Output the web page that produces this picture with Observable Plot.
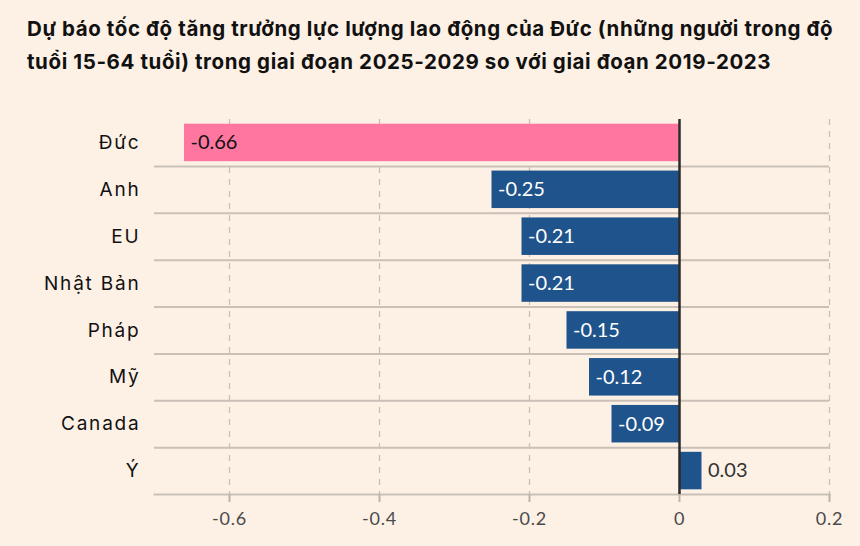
<!DOCTYPE html>
<html>
<head>
<meta charset="utf-8">
<script src="https://cdn.jsdelivr.net/npm/d3@7"></script>
<script src="https://cdn.jsdelivr.net/npm/@observablehq/plot@0.6"></script>
<style>
  html, body { margin: 0; padding: 0; background: #fdf0e5; width: 860px; height: 546px; overflow: hidden; }
  #title { position: absolute; left: 27px; top: 12px; width: 840px; white-space: nowrap; font-family: "Inter", sans-serif; font-weight: 700; font-size: 20.5px; line-height: 33px; color: #111; letter-spacing: 0.6px; }
  #chart { position: absolute; left: 0; top: 90px; }
</style>
</head>
<body>
<div id="title">Dự báo tốc độ tăng trưởng lực lượng lao động của Đức (những người trong độ<br>tuổi 15-64 tuổi) trong giai đoạn 2025-2029 so với giai đoạn 2019-2023</div>
<div id="chart"></div>
<script>
const countries = ["Đức", "Anh", "EU", "Nhật Bản", "Pháp", "Mỹ", "Canada", "Ý"];
const values = [-0.66, -0.25, -0.21, -0.21, -0.15, -0.12, -0.09, 0.03];
const highlight = "Đức";
const xTicks = [-0.6, -0.4, -0.2, 0, 0.2];
const xDomain = [-0.7, 0.2];

const data = countries.map((c, i) => ({country: c, value: values[i]}));

const W = 860, H = 456, mt = 29, mb = 52, ml = 154, mr = 31;
const step = (H - mt - mb) / countries.length;

const pink = "#ff77a0", blue = "#1f538b", grid = "#c9c1b8";
const fmt = d => d3.format(".2f")(d).replace("−", "-");

const chart = Plot.plot({
  width: W, height: H,
  marginTop: mt, marginBottom: mb, marginLeft: ml, marginRight: mr,
  style: {background: "transparent", fontFamily: "Lato, sans-serif"},
  x: {domain: xDomain},
  y: {domain: countries, paddingInner: 0.2, paddingOuter: 0.1, round: false},
  marks: [
    Plot.gridX(xTicks.filter(d => d !== 0), {stroke: grid, strokeOpacity: 1, strokeDasharray: "6,6", strokeWidth: 1.3}),
    Plot.ruleY(countries.slice(1), {y: d => d, dy: -step / 2, stroke: grid, strokeWidth: 2}),
    Plot.frame({anchor: "bottom", stroke: grid, strokeWidth: 2}),
    Plot.barX(data, {x: "value", y: "country", fill: d => d.country === highlight ? pink : blue}),
    Plot.ruleX([0], {stroke: "#2b2b2b", strokeWidth: 2.5}),
    Plot.text(data, {
      x: "value", y: "country", text: d => fmt(d.value),
      textAnchor: "start", dx: 6, fontSize: 20,
      fill: d => d.value > 0 ? "#333" : (d.country === highlight ? "#111" : "#fff"),
      fontWeight: d => (d.value < 0 && d.country !== highlight) ? 700 : 400
    }),
    Plot.axisY({tickSize: 0, tickPadding: 14, fontSize: 19, fontFamily: "Inter, sans-serif", color: "#111", label: null}),
    Plot.axisX({ticks: xTicks, tickSize: 8, tickPadding: 10, fontSize: 18, color: "#4a4a4a", stroke: grid, strokeWidth: 2, label: null, tickFormat: d => d3.format("")(d).replace("−", "-")})
  ]
});
chart.querySelectorAll("g[aria-label='x-axis tick'] path").forEach(p => { p.setAttribute("stroke", "#bdb5ab"); p.setAttribute("stroke-width", "2"); });
chart.querySelectorAll("g[aria-label='x-axis tick label'] text").forEach(t => t.setAttribute("letter-spacing", "0.8"));
chart.querySelectorAll("g[aria-label='y-axis tick label'] text").forEach(t => t.setAttribute("letter-spacing", "1.8"));
document.getElementById("chart").append(chart);
</script>
</body>
</html>
